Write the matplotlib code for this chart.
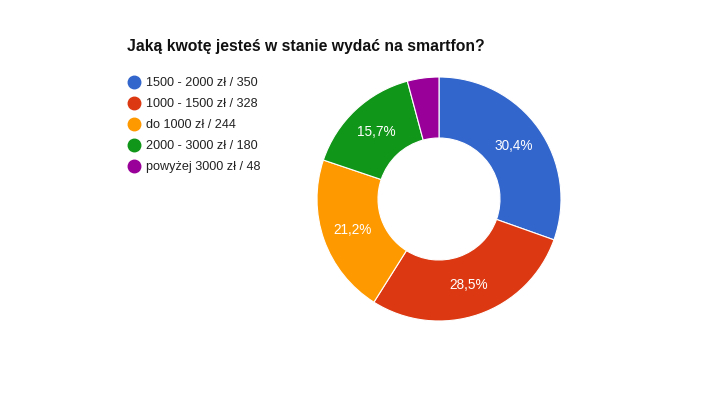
import matplotlib
matplotlib.use("Agg")
from matplotlib import pyplot as plt
from matplotlib.lines import Line2D

# data
categories = ["1500 - 2000 zł", "1000 - 1500 zł", "do 1000 zł", "2000 - 3000 zł", "powyżej 3000 zł"]
counts = [350, 328, 244, 180, 48]
colors = ["#3366cc", "#dc3912", "#ff9900", "#109618", "#990099"]
title = "Jaką kwotę jesteś w stanie wydać na smartfon?"

plt.rcParams['font.family'] = ['Liberation Sans', 'DejaVu Sans']

W, H = 704, 396
fig = plt.figure(figsize=(W / 100, H / 100), dpi=100)

# donut, centre ~ (439, 199) px, radius ~122 px
cx, cy, r = 439, 199, 122
ax = fig.add_axes([(cx - r) / W, 1 - (cy + r) / H, 2 * r / W, 2 * r / H])


def fmt(p):
    # hide label for the small slice
    if p < 5:
        return ""
    return ("%.1f%%" % p).replace(".", ",")


wedges, texts, autotexts = ax.pie(
    counts, colors=colors, startangle=90, counterclock=False, radius=1.0,
    autopct=fmt, pctdistance=0.75,
    wedgeprops=dict(width=0.5, edgecolor="white", linewidth=0.8),
    textprops=dict(color="white", fontsize=9.8))
ax.set_xlim(-1, 1)
ax.set_ylim(-1, 1)
ax.set_aspect("equal")
ax.axis("off")

# title
fig.text(127 / W, 1 - 47 / H, title, fontsize=11.3, fontweight="bold",
         color="#111111", va="center", ha="left")

# legend, drawn by hand so rows sit where they are in the picture
for i, (cat, n, c) in enumerate(zip(categories, counts, colors)):
    y = 1 - (82 + 21 * i) / H
    fig.add_artist(Line2D([134 / W], [y], transform=fig.transFigure, marker="o",
                          markersize=9, color=c, linestyle="none"))
    fig.text(146 / W, y - 1.0 / H, "%s / %d" % (cat, n), fontsize=9.1, color="#222222",
             va="center", ha="left")

fig.savefig("out.png", dpi=100)
